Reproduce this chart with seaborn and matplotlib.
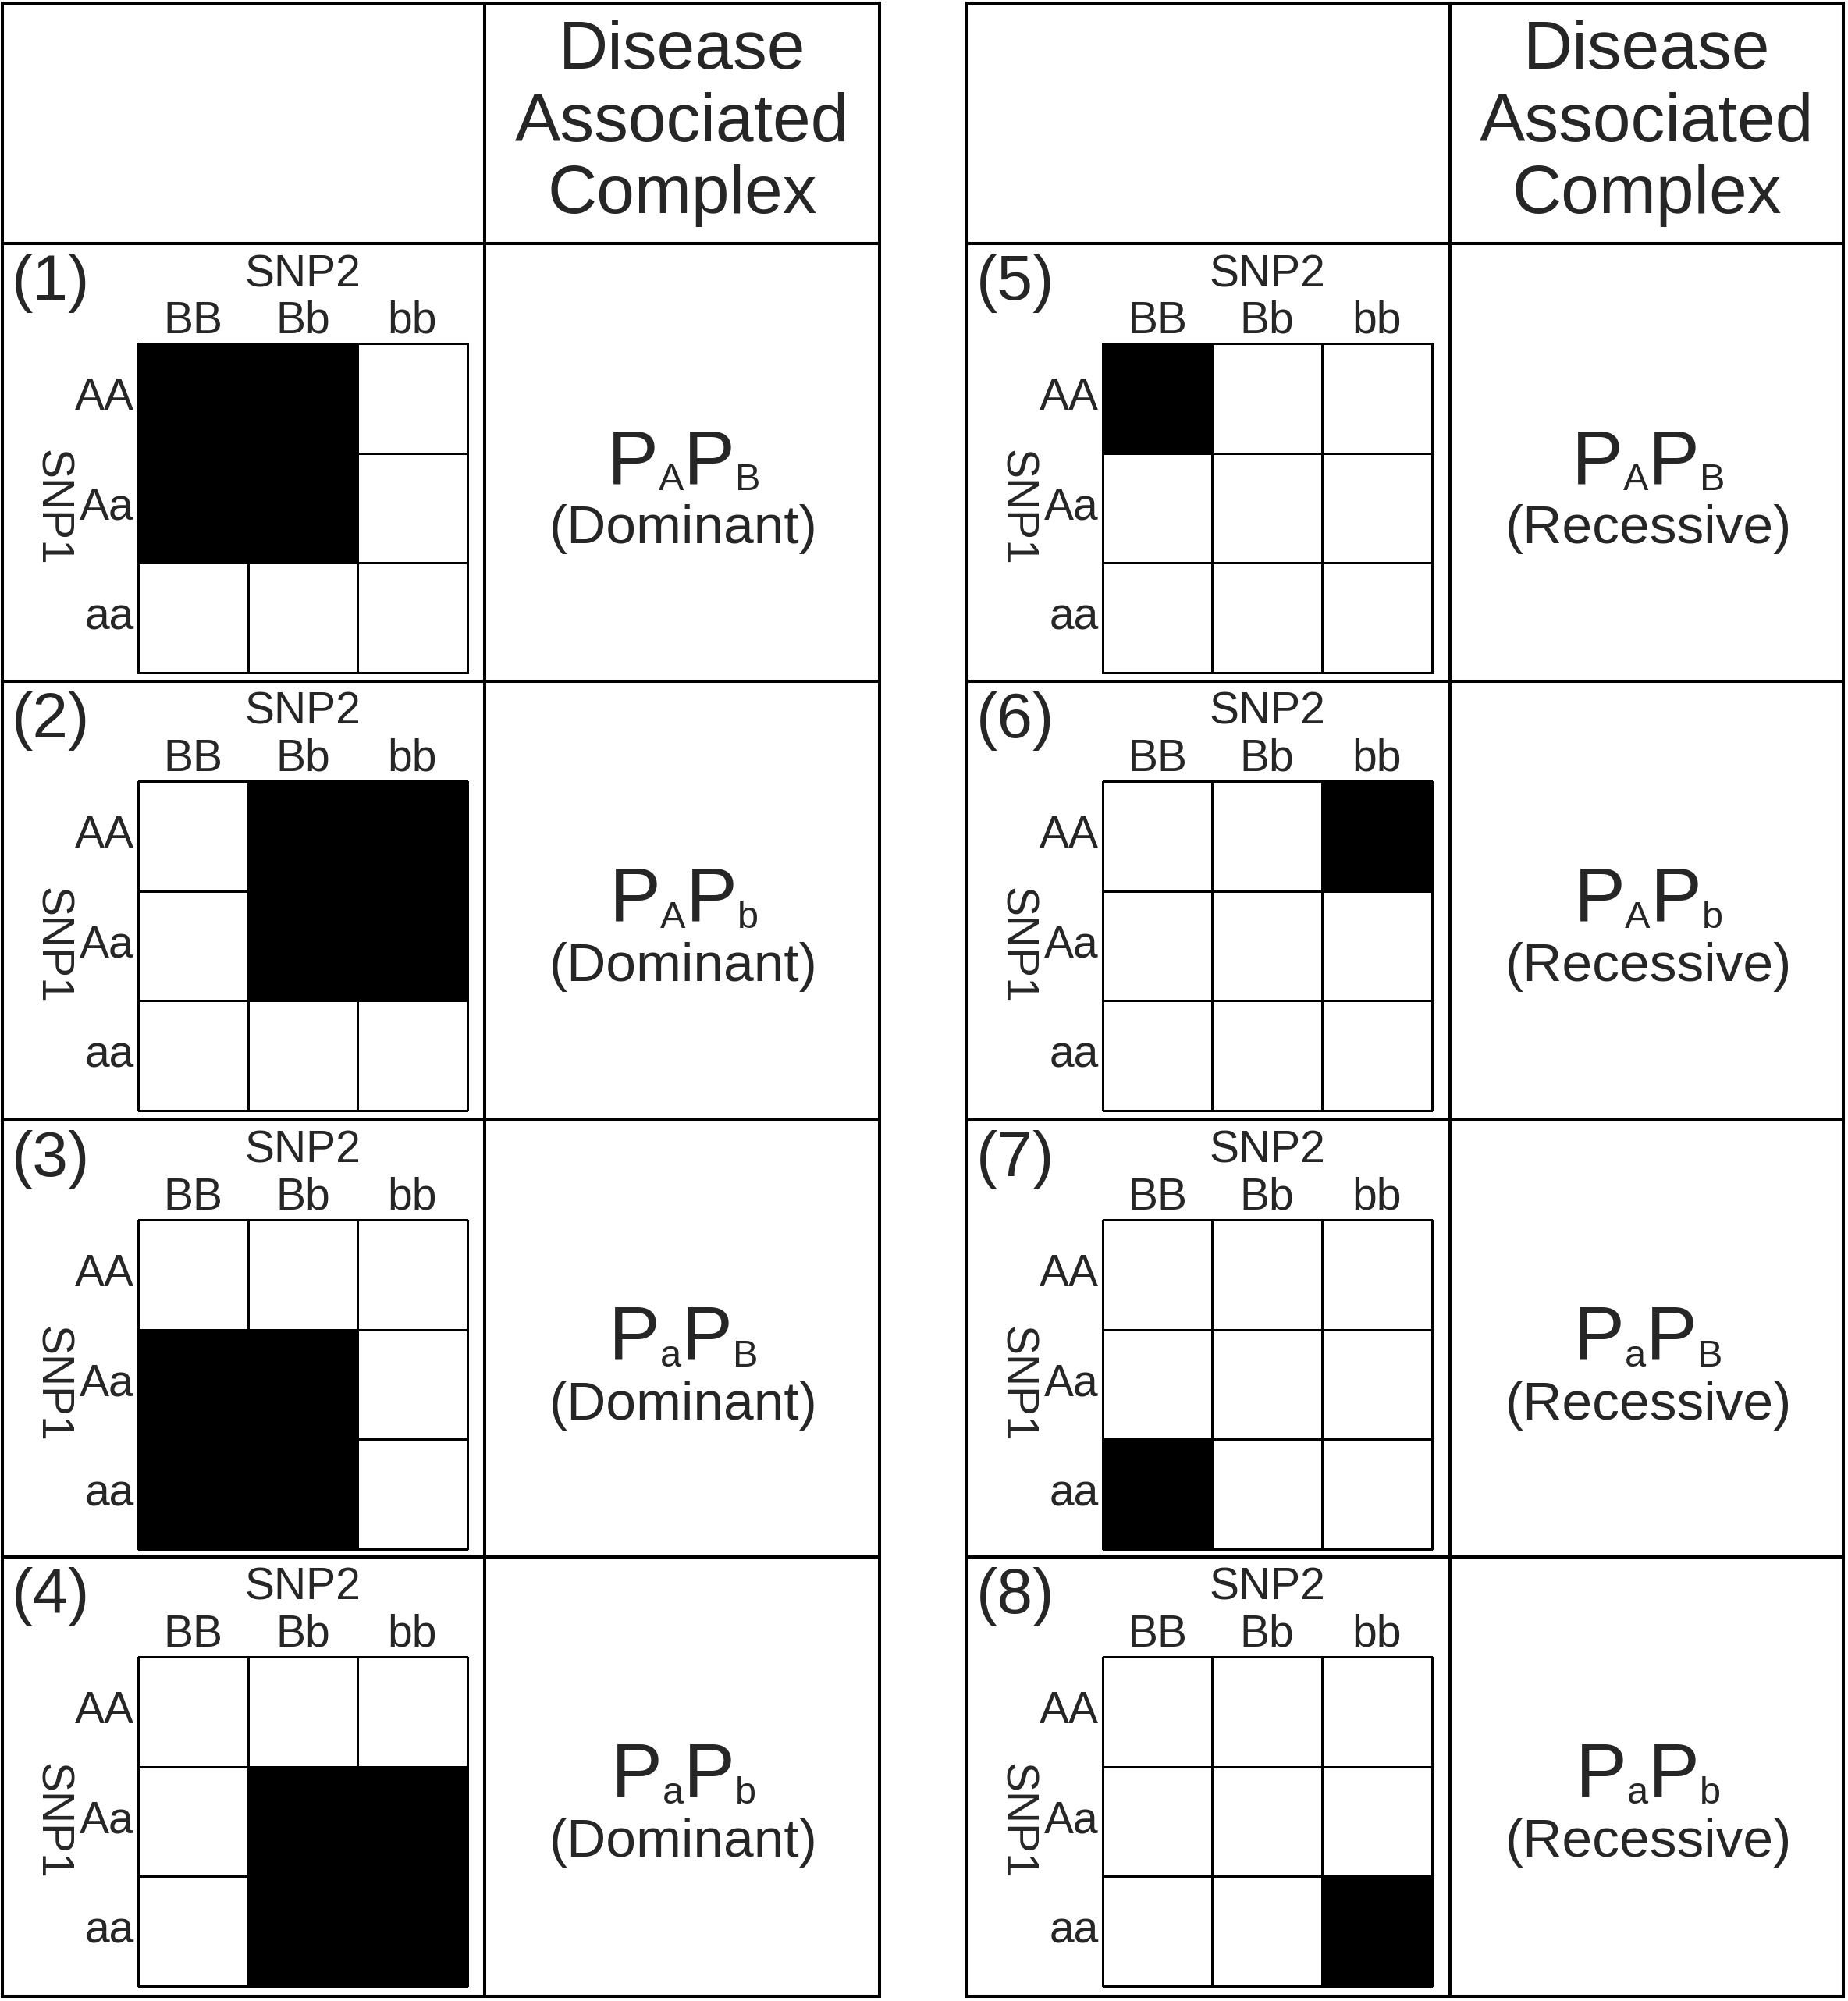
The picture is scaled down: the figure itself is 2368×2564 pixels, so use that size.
import matplotlib
matplotlib.use("Agg")
import matplotlib.pyplot as plt
import seaborn as sns
import numpy as np
import pandas as pd
from matplotlib.colors import ListedColormap

# genotype labels
snp1 = ["AA", "Aa", "aa"]
snp2 = ["BB", "Bb", "bb"]

panel_ids = ["(1)", "(2)", "(3)", "(4)", "(5)", "(6)", "(7)", "(8)"]
sub1 = ["A", "A", "a", "a", "A", "A", "a", "a"]
sub2 = ["B", "b", "B", "b", "B", "b", "B", "b"]
modes = ["(Dominant)"] * 4 + ["(Recessive)"] * 4
header = ["Disease", "Associated", "Complex"]

# 1 = disease associated genotype (black cell)
masks = [
    [[1, 1, 0], [1, 1, 0], [0, 0, 0]],
    [[0, 1, 1], [0, 1, 1], [0, 0, 0]],
    [[0, 0, 0], [1, 1, 0], [1, 1, 0]],
    [[0, 0, 0], [0, 1, 1], [0, 1, 1]],
    [[1, 0, 0], [0, 0, 0], [0, 0, 0]],
    [[0, 0, 1], [0, 0, 0], [0, 0, 0]],
    [[0, 0, 0], [0, 0, 0], [1, 0, 0]],
    [[0, 0, 0], [0, 0, 0], [0, 0, 1]],
]

sns.set_style("white")
plt.rcParams["font.family"] = ["Liberation Sans", "DejaVu Sans"]

W, H = 2368, 2564
row_y = [4, 312, 873, 1435, 1995, 2558]
tables = [(3, 621, 1127), (1239, 1858, 2362)]
lw_table = 2.9

fig = plt.figure(figsize=(W / 100, H / 100), dpi=100)
bg = fig.add_axes([0, 0, 1, 1])
bg.set_xlim(0, W)
bg.set_ylim(H, 0)
bg.axis("off")

# table grid
for x0, xm, x1 in tables:
    for y in row_y:
        bg.plot([x0, x1], [y, y], color="black", lw=lw_table, solid_capstyle="projecting")
    for x in (x0, xm, x1):
        bg.plot([x, x], [row_y[0], row_y[-1]], color="black", lw=lw_table,
                solid_capstyle="projecting")
    xc = (xm + x1) / 2
    for k, line in enumerate(header):
        bg.text(xc, 88 + k * 92.5, line, fontsize=63, ha="center", va="baseline")

cmap = ListedColormap(["white", "black"])
renderer = fig.canvas.get_renderer()

for i in range(8):
    x0, xm, x1 = tables[i // 4]
    top = row_y[i % 4 + 1]

    bg.text(x0 + 12, top + 72, panel_ids[i], fontsize=59, ha="left", va="baseline")

    hx, hs = x0 + 174, 421.5
    ax = fig.add_axes([hx / W, 1 - (top + 128 + hs) / H, hs / W, hs / H])
    df = pd.DataFrame(masks[i], index=snp1, columns=snp2)
    sns.heatmap(df, ax=ax, cmap=cmap, vmin=0, vmax=1, cbar=False,
                linewidths=0.9, linecolor="black")
    ax.collections[0].set_clip_on(False)
    ax.xaxis.tick_top()
    ax.xaxis.set_label_position("top")
    ax.tick_params(length=0, labelsize=41)
    ax.tick_params(axis="x", pad=1.0)
    ax.tick_params(axis="y", pad=4, labelrotation=0)
    ax.set_xlabel("SNP2", fontsize=41)
    ax.xaxis.set_label_coords(0.5, 1 + (128 - 55) / hs)
    ax.xaxis.label.set_va("baseline")
    ax.set_ylabel("SNP1", fontsize=41, rotation=270, va="center", ha="center")
    ax.yaxis.set_label_coords((66 - 177) / hs, 0.5)

    # complex label: P_x P_y with lowered subscripts
    xc = (xm + x1) / 2 + 2
    base = top + 307
    parts = [("P", 71, 0), (sub1[i], 35, 9), ("P", 71, 0), (sub2[i], 35, 9)]
    txts = [bg.text(0, base + dy, s, fontsize=fs, ha="left", va="baseline")
            for s, fs, dy in parts]
    widths = [t.get_window_extent(renderer).width for t in txts]
    x = xc - sum(widths) / 2
    for t, w, (s, fs, dy) in zip(txts, widths, parts):
        t.set_position((x, base + dy))
        x += w
    bg.text(xc, top + 384, modes[i], fontsize=50, ha="center", va="baseline")

fig.savefig("out.png", dpi=100)
